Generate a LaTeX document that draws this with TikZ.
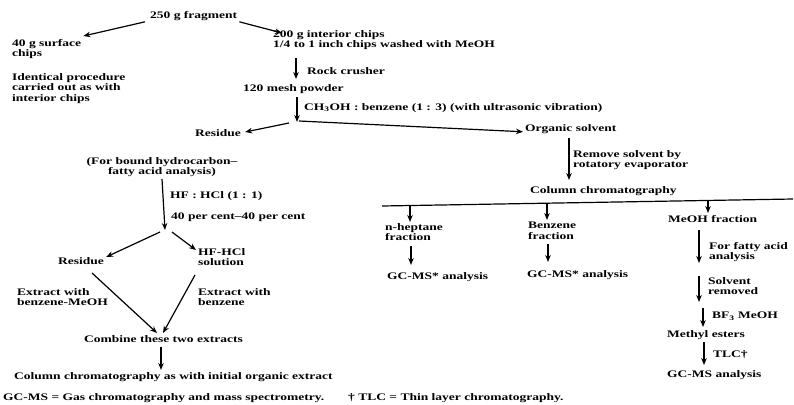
\documentclass[tikz,border=0pt]{standalone}
\usepackage{fontspec}
\setmainfont{Liberation Serif}[FakeStretch=1.35]
\usetikzlibrary{arrows.meta}
\begin{document}
\begin{tikzpicture}[x=1pt,y=-1pt,
  txt/.style={anchor=north west,inner sep=0pt,align=left,
    font=\fontsize{10}{10.5}\selectfont\bfseries},
  arr/.style={line width=1.2pt,-{Stealth[length=7pt,width=5.5pt]}},
  bar/.style={line width=1.2pt}]
\useasboundingbox (0,0) rectangle (794,404);
% ---- texts ----
\node[txt] (frag) at (150,11) {250 g fragment};
\node[txt] (surf) at (12,39) {40 g surface\\chips};
\node[txt] (ident) at (12,73) {Identical procedure\\carried out as with\\interior chips};
\node[txt] (inter) at (273,30) {200 g interior chips\\1/4 to 1 inch chips washed with MeOH};
\node[txt] (rock) at (307,67) {Rock crusher};
\node[txt] (mesh) at (243,84) {120 mesh powder};
\node[txt] (ch3) at (304,103) {CH\textsubscript{3}OH : benzene (1 : 3) (with ultrasonic vibration)};
\node[txt] (res1) at (195,129) {Residue};
\node[txt] (org) at (525,124) {Organic solvent};
\node[txt,anchor=north,align=center] (bound) at (162,157) {(For bound hydrocarbon--\\fatty acid analysis)};
\node[txt] (hfhcl) at (170,191) {HF : HCl (1 : 1)};
\node[txt] (pct) at (171,213) {40 per cent--40 per cent};
\node[txt] (res2) at (58,257) {Residue};
\node[txt] (sol) at (198,248) {HF-HCl\\solution};
\node[txt] (ext1) at (17,288) {Extract with\\benzene-MeOH};
\node[txt] (ext2) at (198,288) {Extract with\\benzene};
\node[txt] (comb) at (84,335) {Combine these two extracts};
\node[txt] (col2) at (14,372) {Column chromatography as with initial organic extract};
\node[txt] (foot1) at (3,393) {GC-MS = Gas chromatography and mass spectrometry.};
\node[txt] (foot2) at (348,393) {\textdagger\ TLC = Thin layer chromatography.};
\node[txt] (remove) at (573,150) {Remove solvent by\\rotatory evaporator};
\node[txt] (colch) at (530,186) {Column chromatography};
\node[txt] (hept) at (385,223) {n-heptane\\fraction};
\node[txt] (benz) at (528,222) {Benzene\\fraction};
\node[txt] (meoh) at (668,215) {MeOH fraction};
\node[txt] (gc1) at (387,272) {GC-MS* analysis};
\node[txt] (gc2) at (527,270) {GC-MS* analysis};
\node[txt] (fatty) at (709,242) {For fatty acid\\analysis};
\node[txt] (solv) at (708,277) {Solvent\\removed};
\node[txt] (bf) at (712,312) {BF\textsubscript{3} MeOH};
\node[txt] (methyl) at (667,330) {Methyl esters};
\node[txt] (tlc) at (713,350) {TLC\textdagger};
\node[txt] (gc3) at (667,370) {GC-MS analysis};
% ---- junctions ----
\coordinate (j1) at (297,122);
\coordinate (j2) at (165,230);
\coordinate (barL) at (382,206);
\coordinate (barR) at (793,199);
\coordinate (b1) at (410,205.5);
\coordinate (b2) at (547,203.2);
\coordinate (b3) at (708,200.4);
% ---- connectors ----
\draw[arr] ([shift={(-5,6)}]frag.west) -- ([shift={(2,-3)}]surf.north east);
\draw[arr] ([shift={(2,6)}]frag.east) -- ([shift={(9,3)}]inter.north west);
\draw[arr] (296,58) -- (296,79);
\draw[arr] (297,97) -- (j1);
\draw[arr] ([shift={(-8,1)}]j1) -- ([shift={(4,3)}]res1.north east);
\draw[arr] ([shift={(2,-1)}]j1) -- ([shift={(-2,3)}]org.west);
\draw[arr] ([yshift=-2]bound.south) -- (j2);
\draw[arr] ([shift={(-5,2)}]j2) -- ([shift={(2,0)}]res2.north east);
\draw[arr] ([shift={(7,2)}]j2) -- ([shift={(-2,2)}]sol.north west);
\draw[arr] (92,273) -- (157,333);
\draw[arr] (195,275) -- (163,333);
\draw[arr] (161,347) -- (161,370);
\draw[arr] (569,138) -- (569,180);
\draw[bar] (barL) -- (barR);
\draw[arr] (b1) -- (410,222);
\draw[arr] (b2) -- (547,220);
\draw[arr] (b3) -- (708,213);
\draw[arr] (411,246) -- (411,265);
\draw[arr] (548,244) -- (548,262);
\draw[arr] (699,230) -- (699,263);
\draw[arr] (699,276) -- (699,302);
\draw[arr] (703,308) -- (703,327);
\draw[arr] (704,342) -- (704,365);
\end{tikzpicture}
\end{document}
